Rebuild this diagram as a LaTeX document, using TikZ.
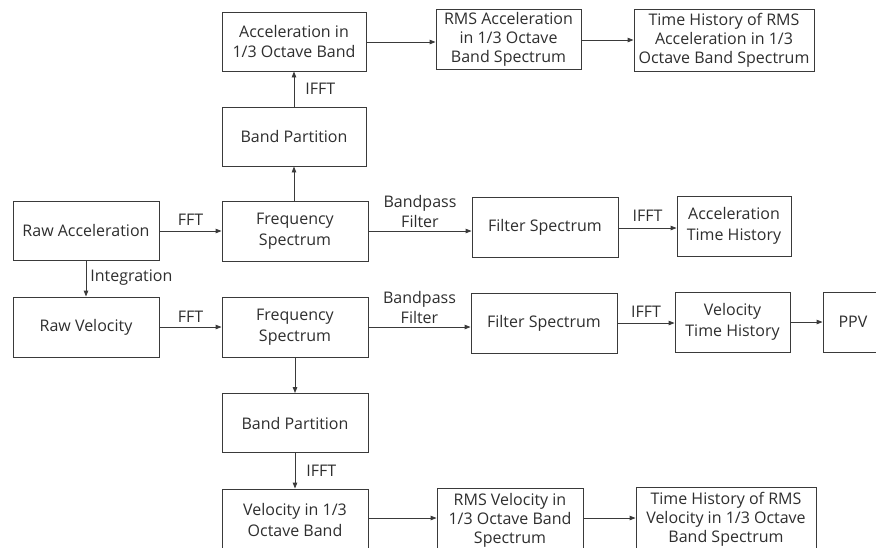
\documentclass[tikz,border=0pt]{standalone}
\usepackage{fontspec}
\setmainfont{Open Sans}
\usetikzlibrary{arrows.meta}
\definecolor{ln}{HTML}{3A3A3A}
\definecolor{tx}{HTML}{2E2E2E}
\tikzset{
  box/.style={draw=ln, line width=0.9pt, text=tx, align=center, inner sep=0pt,
    font=\fontsize{16}{20.5}\selectfont},
  arr/.style={draw=ln, line width=0.9pt, -{Triangle[length=6pt,width=4.5pt]}},
  lbl/.style={text=tx, font=\fontsize{16}{20}\selectfont, align=center, inner sep=0pt},
}
\begin{document}
\begin{tikzpicture}[x=1pt,y=-1pt]
\useasboundingbox (0,0) rectangle (876,547);
\clip (0,0) rectangle (876,547);
% top branch
\node[box, minimum width=144, minimum height=59] (acc13) at (294,41.5) {Acceleration in\\1/3 Octave Band};
\node[box, minimum width=145, minimum height=60, font=\fontsize{16}{19}\selectfont] (rmsacc) at (508.5,39) {RMS Acceleration\\in 1/3 Octave\\Band Spectrum};
\node[box, minimum width=180, minimum height=62, font=\fontsize{16}{19}\selectfont] (thacc) at (724,40) {Time History of RMS\\Acceleration in 1/3\\Octave Band Spectrum};
\node[box, minimum width=144, minimum height=59] (bp1) at (294,136.5) {Band Partition};
% acceleration row
\node[box, minimum width=146, minimum height=59] (rawacc) at (86,230.5) {Raw Acceleration};
\node[box, minimum width=146, minimum height=60] (fs1) at (295,231) {Frequency\\Spectrum};
\node[box, minimum width=146, minimum height=60] (filt1) at (545,227) {Filter Spectrum};
\node[box, minimum width=114, minimum height=60] (acth) at (734,226) {Acceleration\\Time History};
% velocity row
\node[box, minimum width=146, minimum height=60] (rawvel) at (86,327) {Raw Velocity};
\node[box, minimum width=146, minimum height=60] (fs2) at (295,327) {Frequency\\Spectrum};
\node[box, minimum width=146, minimum height=60] (filt2) at (544,323) {Filter Spectrum};
\node[box, minimum width=115, minimum height=60] (velth) at (732.5,322) {Velocity\\Time History};
\node[box, minimum width=60, minimum height=60] (ppv) at (853,322) {PPV};
% bottom branch
\node[box, minimum width=146, minimum height=59] (bp2) at (295,423) {Band Partition};
\node[box, minimum width=146, minimum height=62] (vel13) at (295,520) {Velocity in 1/3\\Octave Band};
\node[box, minimum width=146, minimum height=64, font=\fontsize{16}{19}\selectfont] (rmsvel) at (510,520) {RMS Velocity in\\1/3 Octave Band\\Spectrum};
\node[box, minimum width=180, minimum height=64, font=\fontsize{16}{19}\selectfont] (thvel) at (726,519) {Time History of RMS\\Velocity in 1/3 Octave\\Band Spectrum};
% connectors
\draw[arr] (acc13.east |- 0,42) -- (rmsacc.west |- 0,42);
\draw[arr] (rmsacc.east |- 0,40) -- (thacc.west |- 0,40);
\draw[arr] (bp1.north) -- node[lbl, right, xshift=11pt] {IFFT} (acc13.south);
\draw[arr] (fs1.north -| bp1.north) -- (bp1.south);
\draw[arr] (rawacc.east |- 0,231) -- node[lbl, above, yshift=5pt] {FFT} (fs1.west |- 0,231);
\draw[arr] (fs1.east |- 0,231) -- node[lbl, above, yshift=3pt] {Bandpass\\Filter} (filt1.west |- 0,231);
\draw[arr] (filt1.east |- 0,228) -- node[lbl, above, yshift=6pt] {IFFT} (acth.west |- 0,228);
\draw[arr] (rawacc.south) -- node[lbl, right, xshift=4pt, yshift=1pt] {Integration} (rawvel.north);
\draw[arr] (rawvel.east |- 0,327) -- node[lbl, above, yshift=4pt] {FFT} (fs2.west |- 0,327);
\draw[arr] (fs2.east |- 0,327) -- node[lbl, above, yshift=3pt] {Bandpass\\Filter} (filt2.west |- 0,327);
\draw[arr] (filt2.east |- 0,323) -- node[lbl, above, yshift=5pt] {IFFT} (velth.west |- 0,323);
\draw[arr] (velth.east |- 0,322) -- (ppv.west |- 0,322);
\draw[arr] (fs2.south) -- (bp2.north);
\draw[arr] (bp2.south) -- node[lbl, right, xshift=11pt] {IFFT} (vel13.north);
\draw[arr] (vel13.east |- 0,518) -- (rmsvel.west |- 0,518);
\draw[arr] (rmsvel.east |- 0,518) -- (thvel.west |- 0,518);
\end{tikzpicture}
\end{document}
